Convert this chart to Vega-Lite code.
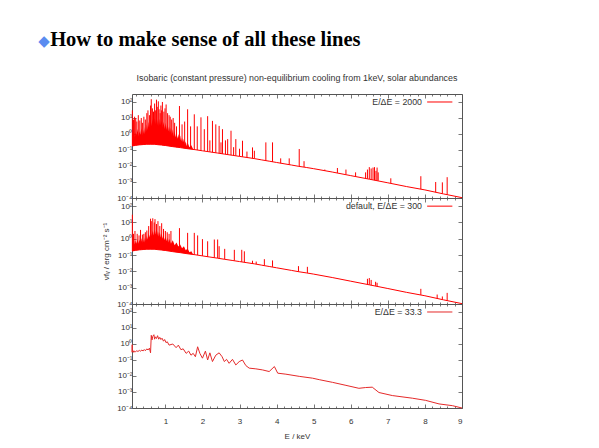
{
  "$schema": "https://vega.github.io/schema/vega-lite/v6.json",
  "padding": {"left": 38, "top": 29, "right": 5, "bottom": 5},
  "background": "white",
  "title": {
    "text": "\u25c6",
    "anchor": "start",
    "frame": "bounds",
    "dx": -12,
    "font": "DejaVu Sans",
    "fontSize": 15,
    "fontWeight": "normal",
    "color": "#5a8cf0",
    "offset": -19
  },
  "datasets": {
    "cont": [
      {"E": 0.1, "f": 0.178}, {"E": 0.2, "f": 0.195}, {"E": 0.3, "f": 0.209}, {"E": 0.4, "f": 0.219},
      {"E": 0.5, "f": 0.229}, {"E": 0.6, "f": 0.229}, {"E": 0.7, "f": 0.229}, {"E": 0.8, "f": 0.214},
      {"E": 0.9, "f": 0.204}, {"E": 1.0, "f": 0.191}, {"E": 1.2, "f": 0.162}, {"E": 1.4, "f": 0.141},
      {"E": 1.6, "f": 0.12}, {"E": 1.8, "f": 0.105}, {"E": 2.0, "f": 0.089}, {"E": 2.2, "f": 0.076},
      {"E": 2.4, "f": 0.065}, {"E": 2.6, "f": 0.055}, {"E": 2.8, "f": 0.047}, {"E": 3.0, "f": 0.04},
      {"E": 3.2, "f": 0.034}, {"E": 3.4, "f": 0.029}, {"E": 3.6, "f": 0.024}, {"E": 3.8, "f": 0.02},
      {"E": 4.0, "f": 0.0166}, {"E": 4.2, "f": 0.0138}, {"E": 4.4, "f": 0.0115}, {"E": 4.6, "f": 0.0095},
      {"E": 4.8, "f": 0.0081}, {"E": 5.0, "f": 0.0068}, {"E": 5.5, "f": 0.0042}, {"E": 6.0, "f": 0.0025},
      {"E": 6.5, "f": 0.0015}, {"E": 7.0, "f": 0.00089}, {"E": 7.5, "f": 0.00052}, {"E": 8.0, "f": 0.00032},
      {"E": 8.5, "f": 0.00018}, {"E": 9.0, "f": 0.000105}
    ],
    "forest1": [
      {"E": 0.100, "lo": 0.178, "hi": 2.0}, {"E": 0.125, "lo": 0.182, "hi": 0.7}, {"E": 0.150, "lo": 0.186, "hi": 1.6},
      {"E": 0.175, "lo": 0.190, "hi": 0.6}, {"E": 0.200, "lo": 0.195, "hi": 1.3}, {"E": 0.225, "lo": 0.198, "hi": 0.8},
      {"E": 0.250, "lo": 0.202, "hi": 2.2}, {"E": 0.275, "lo": 0.205, "hi": 0.7}, {"E": 0.300, "lo": 0.209, "hi": 1.5},
      {"E": 0.325, "lo": 0.211, "hi": 0.9}, {"E": 0.350, "lo": 0.214, "hi": 2.4}, {"E": 0.375, "lo": 0.216, "hi": 0.8},
      {"E": 0.400, "lo": 0.219, "hi": 1.8}, {"E": 0.425, "lo": 0.221, "hi": 1.0}, {"E": 0.450, "lo": 0.224, "hi": 2.8},
      {"E": 0.475, "lo": 0.226, "hi": 1.2}, {"E": 0.500, "lo": 0.229, "hi": 4.0}, {"E": 0.525, "lo": 0.229, "hi": 1.8},
      {"E": 0.550, "lo": 0.229, "hi": 6.0}, {"E": 0.575, "lo": 0.229, "hi": 2.5}, {"E": 0.600, "lo": 0.229, "hi": 8.0},
      {"E": 0.625, "lo": 0.229, "hi": 3.0}, {"E": 0.650, "lo": 0.229, "hi": 9.0}, {"E": 0.675, "lo": 0.229, "hi": 3.5},
      {"E": 0.700, "lo": 0.229, "hi": 10}, {"E": 0.725, "lo": 0.226, "hi": 4.0}, {"E": 0.750, "lo": 0.222, "hi": 9.0},
      {"E": 0.775, "lo": 0.218, "hi": 3.5}, {"E": 0.800, "lo": 0.214, "hi": 8.0}, {"E": 0.825, "lo": 0.211, "hi": 3.0},
      {"E": 0.850, "lo": 0.209, "hi": 9.0}, {"E": 0.875, "lo": 0.206, "hi": 3.5}, {"E": 0.900, "lo": 0.204, "hi": 7.0},
      {"E": 0.925, "lo": 0.200, "hi": 2.5}, {"E": 0.950, "lo": 0.197, "hi": 6.0}, {"E": 0.975, "lo": 0.194, "hi": 2.0},
      {"E": 1.000, "lo": 0.191, "hi": 5.0}, {"E": 1.025, "lo": 0.187, "hi": 1.8}, {"E": 1.050, "lo": 0.184, "hi": 4.0},
      {"E": 1.075, "lo": 0.180, "hi": 1.5}, {"E": 1.100, "lo": 0.177, "hi": 3.0}, {"E": 1.125, "lo": 0.173, "hi": 1.2},
      {"E": 1.150, "lo": 0.170, "hi": 2.5}, {"E": 1.175, "lo": 0.166, "hi": 0.9}, {"E": 1.200, "lo": 0.162, "hi": 2.0},
      {"E": 1.225, "lo": 0.159, "hi": 0.7}, {"E": 1.250, "lo": 0.157, "hi": 1.6}, {"E": 1.275, "lo": 0.154, "hi": 0.6},
      {"E": 1.300, "lo": 0.151, "hi": 1.3}, {"E": 1.325, "lo": 0.149, "hi": 0.5}, {"E": 1.350, "lo": 0.146, "hi": 1.0},
      {"E": 1.375, "lo": 0.143, "hi": 0.45}, {"E": 1.400, "lo": 0.141, "hi": 0.8}, {"E": 1.425, "lo": 0.138, "hi": 0.35},
      {"E": 1.450, "lo": 0.136, "hi": 0.6}, {"E": 1.475, "lo": 0.133, "hi": 0.3}, {"E": 1.500, "lo": 0.130, "hi": 0.5},
      {"E": 1.525, "lo": 0.128, "hi": 0.22}, {"E": 1.550, "lo": 0.125, "hi": 0.35}, {"E": 1.575, "lo": 0.122, "hi": 0.18},
      {"E": 1.600, "lo": 0.120, "hi": 0.28}, {"E": 1.650, "lo": 0.116, "hi": 0.15}, {"E": 1.700, "lo": 0.112, "hi": 0.2},
      {"E": 1.750, "lo": 0.108, "hi": 0.11}
    ],
    "lines1": [
      {"E": 0.11, "base": 0.18, "peak": 30}, {"E": 0.14, "base": 0.185, "peak": 8}, {"E": 0.17, "base": 0.19, "peak": 12},
      {"E": 0.20, "base": 0.195, "peak": 10}, {"E": 0.23, "base": 0.2, "peak": 6}, {"E": 0.27, "base": 0.205, "peak": 15},
      {"E": 0.31, "base": 0.21, "peak": 7}, {"E": 0.35, "base": 0.214, "peak": 10}, {"E": 0.38, "base": 0.217, "peak": 5},
      {"E": 0.42, "base": 0.22, "peak": 12}, {"E": 0.46, "base": 0.225, "peak": 8}, {"E": 0.50, "base": 0.229, "peak": 20},
      {"E": 0.53, "base": 0.229, "peak": 30}, {"E": 0.57, "base": 0.229, "peak": 15}, {"E": 0.60, "base": 0.229, "peak": 60},
      {"E": 0.62, "base": 0.229, "peak": 150}, {"E": 0.65, "base": 0.229, "peak": 40}, {"E": 0.68, "base": 0.229, "peak": 25},
      {"E": 0.71, "base": 0.228, "peak": 80}, {"E": 0.73, "base": 0.226, "peak": 30}, {"E": 0.76, "base": 0.222, "peak": 140},
      {"E": 0.78, "base": 0.218, "peak": 50}, {"E": 0.81, "base": 0.213, "peak": 110}, {"E": 0.83, "base": 0.21, "peak": 35},
      {"E": 0.86, "base": 0.207, "peak": 20}, {"E": 0.88, "base": 0.205, "peak": 60}, {"E": 0.90, "base": 0.204, "peak": 30},
      {"E": 0.92, "base": 0.2, "peak": 100}, {"E": 0.96, "base": 0.196, "peak": 25}, {"E": 0.99, "base": 0.192, "peak": 40},
      {"E": 1.02, "base": 0.188, "peak": 70}, {"E": 1.06, "base": 0.182, "peak": 20}, {"E": 1.10, "base": 0.176, "peak": 15},
      {"E": 1.13, "base": 0.172, "peak": 12}, {"E": 1.17, "base": 0.167, "peak": 8}, {"E": 1.21, "base": 0.161, "peak": 10},
      {"E": 1.25, "base": 0.157, "peak": 5}, {"E": 1.30, "base": 0.152, "peak": 3}, {"E": 1.38, "base": 0.143, "peak": 56},
      {"E": 1.45, "base": 0.136, "peak": 4}, {"E": 1.52, "base": 0.13, "peak": 6}, {"E": 1.60, "base": 0.12, "peak": 35},
      {"E": 1.68, "base": 0.115, "peak": 3}, {"E": 1.78, "base": 0.108, "peak": 17}, {"E": 1.86, "base": 0.1, "peak": 3},
      {"E": 1.96, "base": 0.092, "peak": 11}, {"E": 2.05, "base": 0.086, "peak": 2}, {"E": 2.14, "base": 0.08, "peak": 13},
      {"E": 2.20, "base": 0.076, "peak": 0.4}, {"E": 2.27, "base": 0.072, "peak": 6.6}, {"E": 2.36, "base": 0.067, "peak": 4},
      {"E": 2.45, "base": 0.063, "peak": 3.2}, {"E": 2.50, "base": 0.06, "peak": 0.3}, {"E": 2.54, "base": 0.058, "peak": 2},
      {"E": 2.62, "base": 0.055, "peak": 0.4}, {"E": 2.68, "base": 0.052, "peak": 0.48},
      {"E": 2.77, "base": 0.048, "peak": 1.6}, {"E": 2.84, "base": 0.046, "peak": 0.15}, {"E": 2.90, "base": 0.044, "peak": 0.48}, {"E": 3.00, "base": 0.04, "peak": 0.12},
      {"E": 3.08, "base": 0.038, "peak": 0.38}, {"E": 3.20, "base": 0.034, "peak": 0.08}, {"E": 3.35, "base": 0.03, "peak": 0.145},
      {"E": 3.40, "base": 0.029, "peak": 0.09}, {"E": 3.71, "base": 0.022, "peak": 0.3}, {"E": 3.89, "base": 0.018, "peak": 0.3},
      {"E": 4.11, "base": 0.015, "peak": 0.03}, {"E": 4.34, "base": 0.012, "peak": 0.03}, {"E": 4.61, "base": 0.0094, "peak": 0.115},
      {"E": 4.74, "base": 0.0086, "peak": 0.02}, {"E": 5.30, "base": 0.005, "peak": 0.006}, {"E": 5.64, "base": 0.0037, "peak": 0.0075},
      {"E": 5.87, "base": 0.003, "peak": 0.006}, {"E": 6.13, "base": 0.0023, "peak": 0.004}, {"E": 6.40, "base": 0.0017, "peak": 0.004},
      {"E": 6.45, "base": 0.0016, "peak": 0.006}, {"E": 6.50, "base": 0.0015, "peak": 0.0085}, {"E": 6.55, "base": 0.0014, "peak": 0.007},
      {"E": 6.60, "base": 0.0014, "peak": 0.008}, {"E": 6.64, "base": 0.0013, "peak": 0.0085}, {"E": 6.68, "base": 0.0013, "peak": 0.005},
      {"E": 6.71, "base": 0.0012, "peak": 0.008}, {"E": 6.74, "base": 0.0012, "peak": 0.004}, {"E": 7.08, "base": 0.00085, "peak": 0.0017},
      {"E": 7.89, "base": 0.00036, "peak": 0.0023}, {"E": 8.29, "base": 0.00023, "peak": 0.001}, {"E": 8.47, "base": 0.00019, "peak": 0.00095},
      {"E": 8.60, "base": 0.00016, "peak": 0.002}
    ],
    "forest2": [
      {"E": 0.100, "lo": 0.178, "hi": 1.5}, {"E": 0.125, "lo": 0.182, "hi": 0.5}, {"E": 0.150, "lo": 0.186, "hi": 0.9},
      {"E": 0.175, "lo": 0.190, "hi": 0.45}, {"E": 0.200, "lo": 0.195, "hi": 0.8}, {"E": 0.225, "lo": 0.198, "hi": 0.5},
      {"E": 0.250, "lo": 0.202, "hi": 1.0}, {"E": 0.275, "lo": 0.205, "hi": 0.5}, {"E": 0.300, "lo": 0.209, "hi": 0.9},
      {"E": 0.325, "lo": 0.211, "hi": 0.55}, {"E": 0.350, "lo": 0.214, "hi": 1.1}, {"E": 0.375, "lo": 0.216, "hi": 0.55},
      {"E": 0.400, "lo": 0.219, "hi": 0.9}, {"E": 0.425, "lo": 0.221, "hi": 0.6}, {"E": 0.450, "lo": 0.224, "hi": 1.2},
      {"E": 0.475, "lo": 0.226, "hi": 0.7}, {"E": 0.500, "lo": 0.229, "hi": 1.6}, {"E": 0.525, "lo": 0.229, "hi": 0.9},
      {"E": 0.550, "lo": 0.229, "hi": 2.2}, {"E": 0.575, "lo": 0.229, "hi": 1.2}, {"E": 0.600, "lo": 0.229, "hi": 3.0},
      {"E": 0.625, "lo": 0.229, "hi": 1.5}, {"E": 0.650, "lo": 0.229, "hi": 3.2}, {"E": 0.675, "lo": 0.229, "hi": 1.6},
      {"E": 0.700, "lo": 0.229, "hi": 3.5}, {"E": 0.725, "lo": 0.226, "hi": 1.8}, {"E": 0.750, "lo": 0.222, "hi": 3.2},
      {"E": 0.775, "lo": 0.218, "hi": 1.6}, {"E": 0.800, "lo": 0.214, "hi": 3.0}, {"E": 0.825, "lo": 0.211, "hi": 1.4},
      {"E": 0.850, "lo": 0.209, "hi": 2.6}, {"E": 0.875, "lo": 0.206, "hi": 1.2}, {"E": 0.900, "lo": 0.204, "hi": 2.2},
      {"E": 0.925, "lo": 0.200, "hi": 1.0}, {"E": 0.950, "lo": 0.197, "hi": 1.8}, {"E": 0.975, "lo": 0.194, "hi": 0.8},
      {"E": 1.000, "lo": 0.191, "hi": 1.4}, {"E": 1.025, "lo": 0.187, "hi": 0.7}, {"E": 1.050, "lo": 0.184, "hi": 1.2},
      {"E": 1.075, "lo": 0.180, "hi": 0.6}, {"E": 1.100, "lo": 0.177, "hi": 1.0}, {"E": 1.150, "lo": 0.170, "hi": 0.5},
      {"E": 1.200, "lo": 0.162, "hi": 0.8}, {"E": 1.250, "lo": 0.157, "hi": 0.4}, {"E": 1.300, "lo": 0.151, "hi": 0.6},
      {"E": 1.350, "lo": 0.146, "hi": 0.33}, {"E": 1.400, "lo": 0.141, "hi": 0.45}, {"E": 1.450, "lo": 0.136, "hi": 0.26},
      {"E": 1.500, "lo": 0.130, "hi": 0.35}, {"E": 1.550, "lo": 0.125, "hi": 0.2}, {"E": 1.600, "lo": 0.120, "hi": 0.25},
      {"E": 1.650, "lo": 0.116, "hi": 0.15}, {"E": 1.700, "lo": 0.112, "hi": 0.17}, {"E": 1.750, "lo": 0.108, "hi": 0.11}
    ],
    "lines2": [
      {"E": 0.11, "base": 0.18, "peak": 30}, {"E": 0.14, "base": 0.185, "peak": 2}, {"E": 0.18, "base": 0.19, "peak": 3},
      {"E": 0.24, "base": 0.2, "peak": 2}, {"E": 0.29, "base": 0.207, "peak": 1.6}, {"E": 0.33, "base": 0.212, "peak": 3.5},
      {"E": 0.38, "base": 0.217, "peak": 1.8}, {"E": 0.42, "base": 0.22, "peak": 2}, {"E": 0.46, "base": 0.225, "peak": 2.5},
      {"E": 0.50, "base": 0.229, "peak": 3.2}, {"E": 0.55, "base": 0.229, "peak": 6}, {"E": 0.60, "base": 0.229, "peak": 17},
      {"E": 0.62, "base": 0.229, "peak": 12}, {"E": 0.66, "base": 0.229, "peak": 18}, {"E": 0.70, "base": 0.229, "peak": 10},
      {"E": 0.72, "base": 0.227, "peak": 16}, {"E": 0.76, "base": 0.222, "peak": 8}, {"E": 0.80, "base": 0.215, "peak": 12},
      {"E": 0.85, "base": 0.208, "peak": 6}, {"E": 0.90, "base": 0.202, "peak": 9}, {"E": 0.95, "base": 0.196, "peak": 4},
      {"E": 1.00, "base": 0.19, "peak": 3}, {"E": 1.05, "base": 0.183, "peak": 2.5}, {"E": 1.10, "base": 0.176, "peak": 2},
      {"E": 1.15, "base": 0.17, "peak": 3}, {"E": 1.38, "base": 0.143, "peak": 4.5}, {"E": 1.60, "base": 0.12, "peak": 2.3},
      {"E": 1.78, "base": 0.108, "peak": 2.3}, {"E": 1.87, "base": 0.1, "peak": 1.6}, {"E": 2.00, "base": 0.089, "peak": 0.95},
      {"E": 2.14, "base": 0.08, "peak": 0.7}, {"E": 2.32, "base": 0.069, "peak": 0.9}, {"E": 2.41, "base": 0.066, "peak": 0.9},
      {"E": 2.45, "base": 0.063, "peak": 0.35}, {"E": 2.60, "base": 0.055, "peak": 0.24}, {"E": 2.86, "base": 0.046, "peak": 0.21},
      {"E": 3.06, "base": 0.038, "peak": 0.21}, {"E": 3.13, "base": 0.036, "peak": 0.17}, {"E": 3.35, "base": 0.03, "peak": 0.045},
      {"E": 3.45, "base": 0.028, "peak": 0.04}, {"E": 3.67, "base": 0.023, "peak": 0.056}, {"E": 3.89, "base": 0.019, "peak": 0.047},
      {"E": 4.59, "base": 0.0096, "peak": 0.021}, {"E": 4.83, "base": 0.008, "peak": 0.019}, {"E": 6.45, "base": 0.0016, "peak": 0.0035},
      {"E": 6.50, "base": 0.0015, "peak": 0.0039}, {"E": 6.55, "base": 0.0014, "peak": 0.003}, {"E": 6.67, "base": 0.0013, "peak": 0.0023},
      {"E": 6.71, "base": 0.0012, "peak": 0.002}, {"E": 7.89, "base": 0.00036, "peak": 0.00085}, {"E": 8.33, "base": 0.00022, "peak": 0.00038},
      {"E": 8.47, "base": 0.00019, "peak": 0.00029}, {"E": 8.60, "base": 0.00016, "peak": 0.00048}
    ],
    "spec3": [
      {"E": 0.10, "f": 0.3}, {"E": 0.105, "f": 0.9}, {"E": 0.11, "f": 0.32}, {"E": 0.13, "f": 0.38}, {"E": 0.15, "f": 0.3},
      {"E": 0.17, "f": 0.36}, {"E": 0.20, "f": 0.33}, {"E": 0.23, "f": 0.38}, {"E": 0.26, "f": 0.34}, {"E": 0.30, "f": 0.4},
      {"E": 0.33, "f": 0.35}, {"E": 0.36, "f": 0.42}, {"E": 0.40, "f": 0.37}, {"E": 0.43, "f": 0.45}, {"E": 0.46, "f": 0.38},
      {"E": 0.50, "f": 0.5}, {"E": 0.53, "f": 0.42}, {"E": 0.57, "f": 0.55}, {"E": 0.60, "f": 0.28}, {"E": 0.62, "f": 3.5},
      {"E": 0.64, "f": 1.8}, {"E": 0.66, "f": 3.0}, {"E": 0.69, "f": 3.8}, {"E": 0.71, "f": 2.0}, {"E": 0.73, "f": 2.8},
      {"E": 0.76, "f": 2.2}, {"E": 0.79, "f": 3.3}, {"E": 0.82, "f": 2.0}, {"E": 0.85, "f": 2.6}, {"E": 0.88, "f": 1.9},
      {"E": 0.91, "f": 2.3}, {"E": 0.95, "f": 1.5}, {"E": 0.98, "f": 1.9}, {"E": 1.02, "f": 1.2}, {"E": 1.05, "f": 1.4},
      {"E": 1.10, "f": 0.85}, {"E": 1.20, "f": 1.0}, {"E": 1.29, "f": 0.59}, {"E": 1.35, "f": 0.85}, {"E": 1.42, "f": 0.44},
      {"E": 1.48, "f": 0.5}, {"E": 1.56, "f": 0.26}, {"E": 1.63, "f": 0.36}, {"E": 1.69, "f": 0.2}, {"E": 1.75, "f": 0.26},
      {"E": 1.81, "f": 0.16}, {"E": 1.87, "f": 0.67}, {"E": 1.93, "f": 0.26}, {"E": 2.00, "f": 0.13}, {"E": 2.08, "f": 0.36},
      {"E": 2.14, "f": 0.1}, {"E": 2.20, "f": 0.28}, {"E": 2.27, "f": 0.08}, {"E": 2.36, "f": 0.2}, {"E": 2.45, "f": 0.28},
      {"E": 2.53, "f": 0.16}, {"E": 2.59, "f": 0.08}, {"E": 2.65, "f": 0.11}, {"E": 2.72, "f": 0.062}, {"E": 2.81, "f": 0.11},
      {"E": 2.90, "f": 0.049}, {"E": 2.99, "f": 0.079}, {"E": 3.08, "f": 0.1}, {"E": 3.17, "f": 0.045}, {"E": 3.26, "f": 0.031},
      {"E": 3.44, "f": 0.028}, {"E": 3.62, "f": 0.024}, {"E": 3.80, "f": 0.019}, {"E": 3.94, "f": 0.039}, {"E": 4.03, "f": 0.015},
      {"E": 4.25, "f": 0.013}, {"E": 4.61, "f": 0.0095}, {"E": 4.97, "f": 0.0073}, {"E": 5.15, "f": 0.0059}, {"E": 5.51, "f": 0.004},
      {"E": 5.87, "f": 0.0026}, {"E": 6.22, "f": 0.0017}, {"E": 6.40, "f": 0.0019}, {"E": 6.58, "f": 0.002}, {"E": 6.76, "f": 0.00093},
      {"E": 7.12, "f": 0.0006}, {"E": 7.66, "f": 0.00041}, {"E": 8.02, "f": 0.0003}, {"E": 8.38, "f": 0.00018}, {"E": 8.74, "f": 0.00014},
      {"E": 9.00, "f": 0.0001}
    ]
  },
  "vconcat": [
    {
      "title": {
        "text": "How to make sense of all these lines",
        "anchor": "start",
        "frame": "bounds",
        "dx": -52,
        "font": "Liberation Serif",
        "fontSize": 20.5,
        "fontWeight": "bold",
        "color": "#000000",
        "offset": 23
      },
      "spacing": 0,
      "bounds": "flush",
      "vconcat": [
        {
          "width": 330,
          "height": 104,
          "title": {"text": "Isobaric (constant pressure) non-equilibrium cooling from 1keV, solar abundances", "font": "Liberation Sans", "fontSize": 8.9, "fontWeight": "normal", "color": "#333333", "offset": 11},
          "resolve": {"axis": {"x": "independent", "y": "independent"}},
          "layer": [
            {
              "data": {"name": "forest1"},
              "mark": {"type": "area", "color": "#ff0000"},
              "encoding": {
                "x": {"field": "E", "type": "quantitative", "scale": {"domain": [0.1, 9], "nice": false, "zero": false},
                      "axis": {"orient": "bottom", "values": [1, 2, 3, 4, 5, 6, 7, 8, 9], "labels": false, "tickSize": -4, "title": null}},
                "y": {"field": "lo", "type": "quantitative", "scale": {"type": "log", "domain": [0.0001, 316], "nice": false},
                      "axis": {"orient": "left", "values": [0.0001, 0.001, 0.01, 0.1, 1, 10, 100], "tickSize": -4, "labelPadding": 4, "title": null,
                               "labelExpr": "datum.value < 0.0005 ? '10\u207b\u2074' : datum.value < 0.005 ? '10\u207b\u00b3' : datum.value < 0.05 ? '10\u207b\u00b2' : datum.value < 0.5 ? '10\u207b\u00b9' : datum.value < 5 ? '10\u2070' : datum.value < 50 ? '10\u00b9' : '10\u00b2'"}},
                "y2": {"field": "hi"}
              }
            },
            {
              "data": {"name": "lines1"},
              "mark": {"type": "rule", "color": "#ff0000", "strokeWidth": 1},
              "encoding": {
                "x": {"field": "E", "type": "quantitative", "axis": null},
                "y": {"field": "base", "type": "quantitative", "axis": null},
                "y2": {"field": "peak"}
              }
            },
            {
              "data": {"name": "cont"},
              "mark": {"type": "line", "color": "#ff0000", "strokeWidth": 1},
              "encoding": {
                "x": {"field": "E", "type": "quantitative", "axis": null},
                "y": {"field": "f", "type": "quantitative", "axis": null}
              }
            },
            {
              "data": {"values": [{}]},
              "mark": {"type": "text", "align": "right", "baseline": "middle", "font": "Liberation Sans", "fontSize": 8.8, "color": "#333333"},
              "encoding": {
                "x": {"datum": 7.92, "type": "quantitative", "axis": null},
                "y": {"datum": 100, "type": "quantitative", "axis": null},
                "text": {"value": "E/\u0394E = 2000"}
              }
            },
            {
              "data": {"values": [{}]},
              "mark": {"type": "rule", "color": "#ff0000", "strokeWidth": 1},
              "encoding": {
                "x": {"datum": 8.06, "type": "quantitative", "axis": null},
                "x2": {"datum": 8.74},
                "y": {"datum": 100, "type": "quantitative", "axis": null}
              }
            },
            {
              "data": {"values": [{}]},
              "mark": {"type": "point", "opacity": 0},
              "encoding": {
                "x": {"datum": 5, "type": "quantitative", "axis": {"orient": "top", "values": [1, 2, 3, 4, 5, 6, 7, 8, 9], "labels": false, "tickSize": -4, "title": null}},
                "y": {"datum": 1, "type": "quantitative", "axis": {"orient": "right", "values": [0.0001, 0.001, 0.01, 0.1, 1, 10, 100], "labels": false, "tickSize": -4, "title": null}}
              }
            },
            {
              "data": {"values": [{}]},
              "mark": {"type": "point", "opacity": 0},
              "encoding": {
                "x": {"datum": 5, "type": "quantitative", "axis": {"orient": "bottom", "values": [0.2,0.4,0.6,0.8,1.2,1.4,1.6,1.8,2.2,2.4,2.6,2.8,3.2,3.4,3.6,3.8,4.2,4.4,4.6,4.8,5.2,5.4,5.6,5.8,6.2,6.4,6.6,6.8,7.2,7.4,7.6,7.8,8.2,8.4,8.6,8.8], "labels": false, "tickSize": -2, "title": null}},
                "y": {"datum": 1, "type": "quantitative", "axis": null}
              }
            },
            {
              "data": {"values": [{}]},
              "mark": {"type": "point", "opacity": 0},
              "encoding": {
                "x": {"datum": 5, "type": "quantitative", "axis": {"orient": "top", "values": [0.2,0.4,0.6,0.8,1.2,1.4,1.6,1.8,2.2,2.4,2.6,2.8,3.2,3.4,3.6,3.8,4.2,4.4,4.6,4.8,5.2,5.4,5.6,5.8,6.2,6.4,6.6,6.8,7.2,7.4,7.6,7.8,8.2,8.4,8.6,8.8], "labels": false, "tickSize": -2, "title": null}},
                "y": {"datum": 1, "type": "quantitative", "axis": null}
              }
            }
          ]
        },
        {
          "width": 330,
          "height": 106,
          "resolve": {"axis": {"x": "independent", "y": "independent"}},
          "layer": [
            {
              "data": {"name": "forest2"},
              "mark": {"type": "area", "color": "#ff0000"},
              "encoding": {
                "x": {"field": "E", "type": "quantitative", "scale": {"domain": [0.1, 9], "nice": false, "zero": false},
                      "axis": {"orient": "bottom", "values": [1, 2, 3, 4, 5, 6, 7, 8, 9], "labels": false, "tickSize": -4, "title": null}},
                "y": {"field": "lo", "type": "quantitative", "scale": {"type": "log", "domain": [0.0001, 316], "nice": false},
                      "axis": {"orient": "left", "values": [0.0001, 0.001, 0.01, 0.1, 1, 10, 100], "tickSize": -4, "labelPadding": 4,
                               "title": "\u03bdf\u1d65 / erg cm\u207b\u00b2 s\u207b\u00b9", "titlePadding": 6,
                               "labelExpr": "datum.value < 0.0005 ? '10\u207b\u2074' : datum.value < 0.005 ? '10\u207b\u00b3' : datum.value < 0.05 ? '10\u207b\u00b2' : datum.value < 0.5 ? '10\u207b\u00b9' : datum.value < 5 ? '10\u2070' : datum.value < 50 ? '10\u00b9' : '10\u00b2'"}},
                "y2": {"field": "hi"}
              }
            },
            {
              "data": {"name": "lines2"},
              "mark": {"type": "rule", "color": "#ff0000", "strokeWidth": 1},
              "encoding": {
                "x": {"field": "E", "type": "quantitative", "axis": null},
                "y": {"field": "base", "type": "quantitative", "axis": null},
                "y2": {"field": "peak"}
              }
            },
            {
              "data": {"name": "cont"},
              "mark": {"type": "line", "color": "#ff0000", "strokeWidth": 1},
              "encoding": {
                "x": {"field": "E", "type": "quantitative", "axis": null},
                "y": {"field": "f", "type": "quantitative", "axis": null}
              }
            },
            {
              "data": {"values": [{}]},
              "mark": {"type": "text", "align": "right", "baseline": "middle", "font": "Liberation Sans", "fontSize": 8.8, "color": "#333333"},
              "encoding": {
                "x": {"datum": 7.92, "type": "quantitative", "axis": null},
                "y": {"datum": 100, "type": "quantitative", "axis": null},
                "text": {"value": "default, E/\u0394E = 300"}
              }
            },
            {
              "data": {"values": [{}]},
              "mark": {"type": "rule", "color": "#ff0000", "strokeWidth": 1},
              "encoding": {
                "x": {"datum": 8.06, "type": "quantitative", "axis": null},
                "x2": {"datum": 8.74},
                "y": {"datum": 100, "type": "quantitative", "axis": null}
              }
            },
            {
              "data": {"values": [{}]},
              "mark": {"type": "point", "opacity": 0},
              "encoding": {
                "x": {"datum": 5, "type": "quantitative", "axis": {"orient": "top", "values": [1, 2, 3, 4, 5, 6, 7, 8, 9], "labels": false, "tickSize": -4, "title": null}},
                "y": {"datum": 1, "type": "quantitative", "axis": {"orient": "right", "values": [0.0001, 0.001, 0.01, 0.1, 1, 10, 100], "labels": false, "tickSize": -4, "title": null}}
              }
            },
            {
              "data": {"values": [{}]},
              "mark": {"type": "point", "opacity": 0},
              "encoding": {
                "x": {"datum": 5, "type": "quantitative", "axis": {"orient": "bottom", "values": [0.2,0.4,0.6,0.8,1.2,1.4,1.6,1.8,2.2,2.4,2.6,2.8,3.2,3.4,3.6,3.8,4.2,4.4,4.6,4.8,5.2,5.4,5.6,5.8,6.2,6.4,6.6,6.8,7.2,7.4,7.6,7.8,8.2,8.4,8.6,8.8], "labels": false, "tickSize": -2, "title": null}},
                "y": {"datum": 1, "type": "quantitative", "axis": null}
              }
            },
            {
              "data": {"values": [{}]},
              "mark": {"type": "point", "opacity": 0},
              "encoding": {
                "x": {"datum": 5, "type": "quantitative", "axis": {"orient": "top", "values": [0.2,0.4,0.6,0.8,1.2,1.4,1.6,1.8,2.2,2.4,2.6,2.8,3.2,3.4,3.6,3.8,4.2,4.4,4.6,4.8,5.2,5.4,5.6,5.8,6.2,6.4,6.6,6.8,7.2,7.4,7.6,7.8,8.2,8.4,8.6,8.8], "labels": false, "tickSize": -2, "title": null}},
                "y": {"datum": 1, "type": "quantitative", "axis": null}
              }
            }
          ]
        },
        {
          "width": 330,
          "height": 104,
          "resolve": {"axis": {"x": "independent", "y": "independent"}},
          "layer": [
            {
              "data": {"name": "spec3"},
              "mark": {"type": "line", "color": "#e52a2a", "strokeWidth": 1},
              "encoding": {
                "x": {"field": "E", "type": "quantitative", "scale": {"domain": [0.1, 9], "nice": false, "zero": false},
                      "axis": {"orient": "bottom", "values": [1, 2, 3, 4, 5, 6, 7, 8, 9], "tickSize": -4, "labelPadding": 13, "title": "E / keV", "titlePadding": 7}},
                "y": {"field": "f", "type": "quantitative", "scale": {"type": "log", "domain": [0.0001, 316], "nice": false},
                      "axis": {"orient": "left", "values": [0.0001, 0.001, 0.01, 0.1, 1, 10, 100], "tickSize": -4, "labelPadding": 4, "title": null,
                               "labelExpr": "datum.value < 0.0005 ? '10\u207b\u2074' : datum.value < 0.005 ? '10\u207b\u00b3' : datum.value < 0.05 ? '10\u207b\u00b2' : datum.value < 0.5 ? '10\u207b\u00b9' : datum.value < 5 ? '10\u2070' : datum.value < 50 ? '10\u00b9' : '10\u00b2'"}}
              }
            },
            {
              "data": {"values": [{}]},
              "mark": {"type": "text", "align": "right", "baseline": "middle", "font": "Liberation Sans", "fontSize": 8.8, "color": "#333333"},
              "encoding": {
                "x": {"datum": 7.92, "type": "quantitative", "axis": null},
                "y": {"datum": 100, "type": "quantitative", "axis": null},
                "text": {"value": "E/\u0394E = 33.3"}
              }
            },
            {
              "data": {"values": [{}]},
              "mark": {"type": "rule", "color": "#e52a2a", "strokeWidth": 1},
              "encoding": {
                "x": {"datum": 8.06, "type": "quantitative", "axis": null},
                "x2": {"datum": 8.74},
                "y": {"datum": 100, "type": "quantitative", "axis": null}
              }
            },
            {
              "data": {"values": [{}]},
              "mark": {"type": "point", "opacity": 0},
              "encoding": {
                "x": {"datum": 5, "type": "quantitative", "axis": {"orient": "top", "values": [1, 2, 3, 4, 5, 6, 7, 8, 9], "labels": false, "tickSize": -4, "title": null}},
                "y": {"datum": 1, "type": "quantitative", "axis": {"orient": "right", "values": [0.0001, 0.001, 0.01, 0.1, 1, 10, 100], "labels": false, "tickSize": -4, "title": null}}
              }
            },
            {
              "data": {"values": [{}]},
              "mark": {"type": "point", "opacity": 0},
              "encoding": {
                "x": {"datum": 5, "type": "quantitative", "axis": {"orient": "bottom", "values": [0.2,0.4,0.6,0.8,1.2,1.4,1.6,1.8,2.2,2.4,2.6,2.8,3.2,3.4,3.6,3.8,4.2,4.4,4.6,4.8,5.2,5.4,5.6,5.8,6.2,6.4,6.6,6.8,7.2,7.4,7.6,7.8,8.2,8.4,8.6,8.8], "labels": false, "tickSize": -2, "title": null}},
                "y": {"datum": 1, "type": "quantitative", "axis": null}
              }
            },
            {
              "data": {"values": [{}]},
              "mark": {"type": "point", "opacity": 0},
              "encoding": {
                "x": {"datum": 5, "type": "quantitative", "axis": {"orient": "top", "values": [0.2,0.4,0.6,0.8,1.2,1.4,1.6,1.8,2.2,2.4,2.6,2.8,3.2,3.4,3.6,3.8,4.2,4.4,4.6,4.8,5.2,5.4,5.6,5.8,6.2,6.4,6.6,6.8,7.2,7.4,7.6,7.8,8.2,8.4,8.6,8.8], "labels": false, "tickSize": -2, "title": null}},
                "y": {"datum": 1, "type": "quantitative", "axis": null}
              }
            }
          ]
        }
      ]
    }
  ],
  "config": {
    "view": {"stroke": "#555555", "strokeWidth": 1},
    "axis": {
      "domain": false,
      "grid": false,
      "labelFont": "Liberation Sans",
      "labelFontSize": 8,
      "labelColor": "#333333",
      "tickColor": "#555555",
      "tickWidth": 0.8,
      "titleFont": "Liberation Sans",
      "titleFontSize": 8,
      "titleFontWeight": "normal",
      "titleColor": "#333333"
    }
  }
}
